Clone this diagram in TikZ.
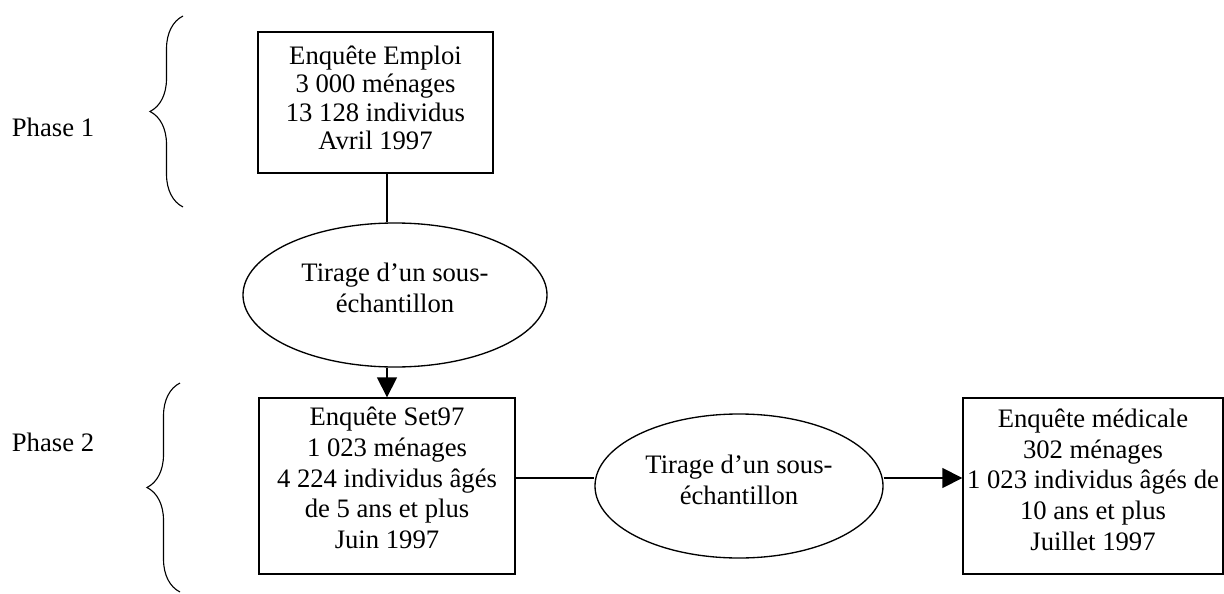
\documentclass[tikz,border=0pt]{standalone}
\usepackage{fontspec}
\setmainfont{Liberation Serif}
\usetikzlibrary{shapes.geometric,
	decorations.pathreplacing,
	arrows.meta,
	positioning}
\def\padbelow#1{\rule[-#1]{0pt}{#1}}

\begin{document}
\begin{tikzpicture}[x=0.45pt, y=-0.45pt,
	every node/.style={font=\fontsize{12}{13.8}\selectfont, align=center, inner sep=0pt},
	survey/.style={draw, line width=0.6pt, rectangle},
	subsample/.style={draw, line width=0.6pt, ellipse, minimum width=136.8pt, minimum height=64.8pt},
	link/.style={line width=0.6pt},
	arr/.style={line width=0.6pt, -{Triangle[length=9pt,width=9pt]}},
	phasebrace/.style={line width=0.5pt, decorate, decoration={brace, amplitude=14.85pt}}]
	\useasboundingbox (0,0) rectangle (1224,594);

	\node[survey, minimum width=105.75pt, minimum height=63.45pt, font=\fontsize{12}{12.8}\selectfont] (emploi) at (375.5,102.5) {Enquête Emploi\\3 000 ménages\\13 128 individus\\Avril 1997\padbelow{4.5pt}};
	\node[subsample] (tirageA) at (395,295) {Tirage d’un sous-\\échantillon\padbelow{6.8pt}};
	\node[survey, minimum width=115.2pt, minimum height=79.2pt] (set97) at (387,486) {Enquête Set97\\1 023 ménages\\4 224 individus âgés\\de 5 ans et plus\\Juin 1997\padbelow{7.2pt}};
	\node[subsample, minimum width=129.6pt] (tirageB) at (739,486) {Tirage d’un sous-\\échantillon\padbelow{5.4pt}};
	\node[survey, minimum width=117pt, minimum height=79.2pt] (medicale) at (1093,486) {Enquête médicale\\302 ménages\\1 023 individus âgés de\\10 ans et plus\\Juillet 1997\padbelow{5.8pt}};

	% phases
	\node (phaseA) at (53,127) {Phase 1};
	\node (phaseB) at (53,442) {Phase 2};
	\draw[phasebrace] (183,207) -- (183,16);
	\draw[phasebrace] (180,592) -- (180,383);

	\coordinate (row) at (0,478);
	\draw[link] (emploi.south -| set97.north) -- (tirageA.north -| set97.north);
	\draw[arr] (tirageA.south -| set97.north) -- (set97.north);
	\draw[link] (set97.east |- row) -- (tirageB.west |- row);
	\draw[arr] (tirageB.east |- row) -- (medicale.west |- row);
\end{tikzpicture}
\end{document}
